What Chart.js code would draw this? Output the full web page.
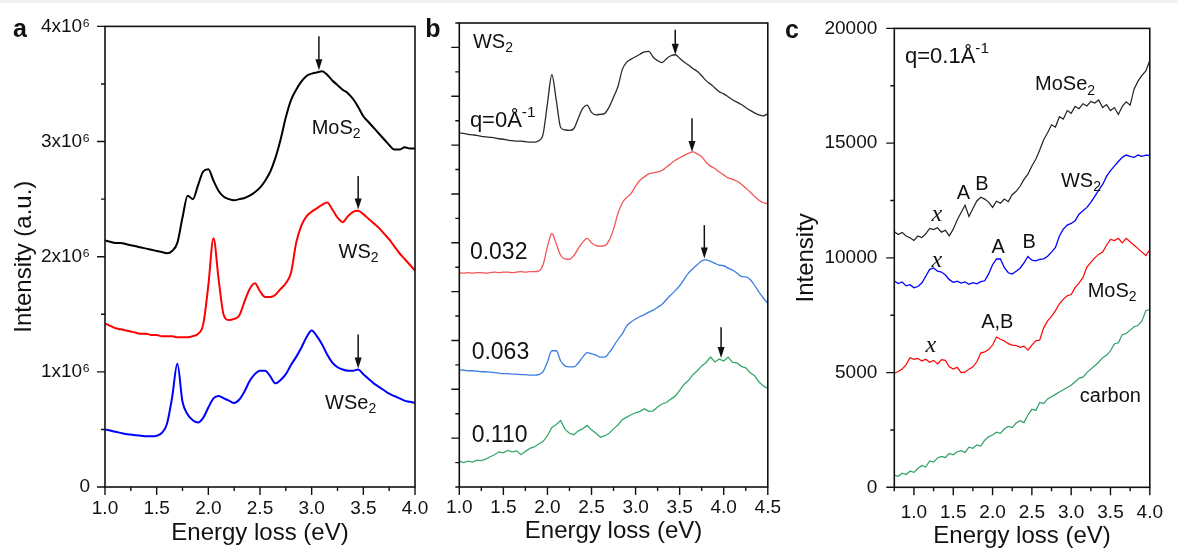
<!DOCTYPE html>
<html>
<head>
<meta charset="utf-8">
<script src="https://cdn.jsdelivr.net/npm/chart.js@4.4.1/dist/chart.umd.min.js"></script>
<style>
  body { margin: 0; background: #fff; width: 1177px; height: 552px; overflow: hidden; position: relative; }
  canvas { position: absolute; top: 0; }
  .strip { position: absolute; left: 0; top: 0; width: 1177px; height: 3px; background: #efefef; }
</style>
</head>
<body>
<div class="strip"></div>
<canvas id="panelA" width="440" height="552" style="left:0"></canvas>
<canvas id="panelB" width="370" height="552" style="left:420px"></canvas>
<canvas id="panelC" width="397" height="552" style="left:780px"></canvas>
<script>
// ---- energy axes (eV) ----
const energyA = [1.00, 1.05, 1.10, 1.15, 1.20, 1.25, 1.30, 1.35, 1.40, 1.45,
  1.50, 1.55, 1.60, 1.65, 1.70, 1.75, 1.80, 1.85, 1.90, 1.95,
  2.00, 2.05, 2.10, 2.15, 2.20, 2.25, 2.30, 2.35, 2.40, 2.45,
  2.50, 2.55, 2.60, 2.65, 2.70, 2.75, 2.80, 2.85, 2.90, 2.95,
  3.00, 3.05, 3.10, 3.15, 3.20, 3.25, 3.30, 3.35, 3.40, 3.45,
  3.50, 3.55, 3.60, 3.65, 3.70, 3.75, 3.80, 3.85, 3.90, 3.95,
  4.00];
const energyB = [1.00, 1.05, 1.10, 1.15, 1.20, 1.25, 1.30, 1.35, 1.40, 1.45,
  1.50, 1.55, 1.60, 1.65, 1.70, 1.75, 1.80, 1.85, 1.90, 1.95,
  2.00, 2.05, 2.10, 2.15, 2.20, 2.25, 2.30, 2.35, 2.40, 2.45,
  2.50, 2.55, 2.60, 2.65, 2.70, 2.75, 2.80, 2.85, 2.90, 2.95,
  3.00, 3.05, 3.10, 3.15, 3.20, 3.25, 3.30, 3.35, 3.40, 3.45,
  3.50, 3.55, 3.60, 3.65, 3.70, 3.75, 3.80, 3.85, 3.90, 3.95,
  4.00, 4.05, 4.10, 4.15, 4.20, 4.25, 4.30, 4.35, 4.40, 4.45,
  4.50];
const energyC = [0.75, 0.80, 0.85, 0.90, 0.95,
  1.00, 1.05, 1.10, 1.15, 1.20, 1.25, 1.30, 1.35, 1.40, 1.45,
  1.50, 1.55, 1.60, 1.65, 1.70, 1.75, 1.80, 1.85, 1.90, 1.95,
  2.00, 2.05, 2.10, 2.15, 2.20, 2.25, 2.30, 2.35, 2.40, 2.45,
  2.50, 2.55, 2.60, 2.65, 2.70, 2.75, 2.80, 2.85, 2.90, 2.95,
  3.00, 3.05, 3.10, 3.15, 3.20, 3.25, 3.30, 3.35, 3.40, 3.45,
  3.50, 3.55, 3.60, 3.65, 3.70, 3.75, 3.80, 3.85, 3.90, 3.95,
  4.00];

// ---- panel a: bulk spectra, intensity in units of 10^6 ----
const aMoS2 = [2.14, 2.13, 2.12, 2.12, 2.11, 2.10, 2.09, 2.08, 2.07, 2.06,
  2.05, 2.04, 2.03, 2.05, 2.12, 2.34, 2.53, 2.50, 2.62, 2.74,
  2.76, 2.66, 2.57, 2.52, 2.50, 2.49, 2.50, 2.51, 2.53, 2.56,
  2.60, 2.66, 2.74, 2.86, 3.02, 3.21, 3.36, 3.45, 3.52, 3.57,
  3.59, 3.60, 3.61, 3.58, 3.53, 3.49, 3.45, 3.42, 3.37, 3.30,
  3.22, 3.17, 3.12, 3.07, 3.02, 2.97, 2.93, 2.93, 2.95, 2.94,
  2.94];
const aWS2 = [1.42, 1.40, 1.38, 1.37, 1.36, 1.35, 1.34, 1.33, 1.33, 1.32,
  1.32, 1.31, 1.31, 1.31, 1.30, 1.30, 1.30, 1.31, 1.33, 1.41,
  1.75, 2.16, 1.80, 1.49, 1.45, 1.46, 1.49, 1.61, 1.72, 1.77,
  1.70, 1.65, 1.65, 1.67, 1.72, 1.77, 1.86, 2.12, 2.27, 2.35,
  2.39, 2.42, 2.45, 2.47, 2.41, 2.34, 2.30, 2.35, 2.39, 2.40,
  2.37, 2.33, 2.29, 2.25, 2.20, 2.15, 2.09, 2.03, 1.98, 1.93,
  1.88];
const aWSe2 = [0.50, 0.49, 0.48, 0.47, 0.46, 0.455, 0.45, 0.445, 0.44, 0.44,
  0.445, 0.47, 0.55, 0.78, 1.07, 0.74, 0.63, 0.58, 0.56, 0.60,
  0.69, 0.77, 0.79, 0.77, 0.75, 0.73, 0.76, 0.83, 0.92, 0.98,
  1.01, 1.01, 0.96, 0.90, 0.93, 0.98, 1.06, 1.13, 1.21, 1.30,
  1.36, 1.31, 1.24, 1.15, 1.08, 1.04, 1.02, 1.01, 1.01, 1.02,
  0.98, 0.94, 0.90, 0.87, 0.84, 0.81, 0.79, 0.77, 0.75, 0.74,
  0.73];

// ---- panel b: WS2 at increasing q, stacked with offsets ----
const bQ000 = [7.25, 7.24, 7.22, 7.21, 7.20, 7.18, 7.17, 7.16, 7.15, 7.13,
  7.12, 7.10, 7.09, 7.08, 7.08, 7.07, 7.06, 7.06, 7.09, 7.22,
  7.85, 8.44, 7.92, 7.36, 7.31, 7.30, 7.34, 7.55, 7.75, 7.82,
  7.67, 7.62, 7.63, 7.65, 7.78, 7.98, 8.20, 8.55, 8.70, 8.76,
  8.81, 8.86, 8.91, 8.92, 8.80, 8.73, 8.69, 8.77, 8.83, 8.85,
  8.78, 8.70, 8.64, 8.57, 8.51, 8.42, 8.32, 8.25, 8.17, 8.09,
  8.05, 7.99, 7.93, 7.88, 7.83, 7.77, 7.71, 7.66, 7.62, 7.60,
  7.64];
const bQ032 = [4.39, 4.38, 4.39, 4.38, 4.39, 4.39, 4.38, 4.39, 4.40, 4.39,
  4.40, 4.40, 4.39, 4.40, 4.41, 4.40, 4.41, 4.41, 4.42, 4.55,
  4.92, 5.19, 4.98, 4.74, 4.67, 4.66, 4.74, 4.88, 5.01, 5.09,
  5.00, 4.94, 4.93, 4.94, 5.05, 5.28, 5.60, 5.82, 5.93, 6.01,
  6.16, 6.28, 6.35, 6.41, 6.43, 6.45, 6.48, 6.55, 6.62, 6.69,
  6.74, 6.79, 6.83, 6.86, 6.82, 6.76, 6.65, 6.57, 6.52, 6.45,
  6.39, 6.33, 6.30, 6.26, 6.20, 6.12, 6.04, 5.95, 5.87, 5.82,
  5.80];
const bQ063 = [2.40, 2.39, 2.38, 2.38, 2.37, 2.36, 2.36, 2.35, 2.34, 2.33,
  2.32, 2.32, 2.31, 2.31, 2.30, 2.30, 2.29, 2.29, 2.30, 2.36,
  2.56, 2.79, 2.79, 2.58, 2.48, 2.46, 2.46, 2.54, 2.66, 2.75,
  2.73, 2.70, 2.66, 2.66, 2.75, 2.88, 3.02, 3.14, 3.30, 3.38,
  3.44, 3.49, 3.53, 3.58, 3.62, 3.68, 3.74, 3.84, 3.93, 4.02,
  4.12, 4.25, 4.38, 4.47, 4.55, 4.63, 4.65, 4.62, 4.58, 4.54,
  4.53, 4.48, 4.44, 4.38, 4.31, 4.30, 4.25, 4.13, 3.99, 3.87,
  3.76];
const bQ110 = [0.53, 0.50, 0.53, 0.51, 0.55, 0.54, 0.57, 0.62, 0.66, 0.72,
  0.70, 0.75, 0.72, 0.74, 0.66, 0.73, 0.79, 0.82, 0.88, 0.93,
  1.05, 1.22, 1.28, 1.36, 1.18, 1.10, 1.07, 1.15, 1.19, 1.26,
  1.17, 1.10, 1.02, 1.05, 1.10, 1.19, 1.27, 1.38, 1.43, 1.48,
  1.52, 1.55, 1.60, 1.55, 1.56, 1.64, 1.70, 1.73, 1.80, 1.86,
  1.98, 2.10, 2.18, 2.30, 2.38, 2.48, 2.55, 2.66, 2.56, 2.62,
  2.58, 2.66, 2.55, 2.54, 2.47, 2.44, 2.34, 2.28, 2.15, 2.07,
  2.02];

// ---- panel c: monolayers at q = 0.1 1/A ----
const cMoSe2 = [11140, 11020, 11110, 10950, 10880,
  10760, 10950, 10880, 11050, 11280, 11230, 11310, 11120, 11200, 10960,
  11250, 11650, 11980, 12290, 11800, 12150, 12480, 12640, 12560, 12430,
  12200, 12470, 12380, 12560, 12450, 12750, 12900, 13120, 13420, 13650,
  14000, 14300, 14700, 15150, 15450, 15800, 15700, 16150, 16050, 16420,
  16300, 16600, 16500, 16720, 16620, 16820, 16750, 16880, 16550, 16680,
  16420, 16550, 16250, 16600, 16800, 16650, 17350, 17700, 17950, 18150,
  18600];
const cWS2 = [8990, 8880, 8950, 8780, 8830,
  8700, 8750, 8900, 9200, 9500, 9560, 9420, 9380, 9250, 9050,
  8930, 8980, 8900, 8950, 8850, 8920, 8870, 8960, 9000, 9300,
  9700, 9950, 9950, 9570, 9350, 9290, 9420, 9550, 9780, 10060,
  9900, 9870, 9930, 9960, 10070, 10250, 10450, 10950, 11250, 11430,
  11500, 11620, 11900, 12050, 12200, 12420, 12680, 12950, 13200, 13550,
  13800, 14000, 14200, 14380, 14480, 14420, 14380, 14480, 14420, 14480,
  14460];
const cMoS2 = [4970, 5050, 5150, 5350, 5650,
  5580, 5620, 5500, 5580, 5450, 5530, 5380, 5560, 5530, 5250,
  5150, 5230, 5000, 5020, 5150, 5250, 5470, 5850, 5900, 6000,
  6200, 6550, 6450, 6380, 6260, 6200, 6180, 6100, 6150, 5980,
  6200, 6380, 6420, 6950, 7250, 7450, 7700, 8000, 8200, 8350,
  8400, 8700, 8900, 9150, 9600, 9800, 10000, 10150, 10250, 10550,
  10800, 10750, 10850, 10650, 10850, 10700, 10550, 10400, 10250, 10100,
  10350];
const cCarbon = [530, 480, 620, 560, 700,
  650, 820, 950, 880, 1150, 1100, 1280, 1350, 1300, 1480,
  1420, 1550, 1600, 1520, 1750, 1700, 1850, 1800, 2050, 2200,
  2280, 2400, 2350, 2550, 2650, 2600, 2800, 2900, 2820, 3150,
  3400, 3350, 3700, 3650, 3850, 3950, 4050, 4150, 4250, 4350,
  4450, 4600, 4750, 4800, 5000, 5150, 5300, 5450, 5650, 5750,
  5950, 6250, 6300, 6650, 6700, 6850, 7000, 7050, 7250, 7700,
  7750];

// ---- tick values ----
const xTicksA = [1.0, 1.5, 2.0, 2.5, 3.0, 3.5, 4.0];
const xTicksB = [1.0, 1.5, 2.0, 2.5, 3.0, 3.5, 4.0, 4.5];
const xTicksC = [1.0, 1.5, 2.0, 2.5, 3.0, 3.5, 4.0];
const yTicksA = [0, 1, 2, 3, 4];
const yTicksB = [1, 2, 3, 4, 5, 6, 7, 8, 9];
const yTicksC = [0, 5000, 10000, 15000, 20000];

const FONT = '"Liberation Sans", Arial, sans-serif';
const SERIF = '"Liberation Serif", "Times New Roman", serif';
const INK = '#111';

// text with _{sub} and ^{sup} runs, drawn left-aligned or centred
function drawRich(ctx, text, x, y, size, opt) {
  const parts = [];
  const re = /([_^])\{([^}]*)\}/g;
  let last = 0, m;
  while ((m = re.exec(text))) {
    if (m.index > last) parts.push({ t: text.slice(last, m.index), k: '' });
    parts.push({ t: m[2], k: m[1] });
    last = re.lastIndex;
  }
  if (last < text.length) parts.push({ t: text.slice(last), k: '' });
  const fam = opt.serif ? SERIF : FONT;
  const fontFor = k => (opt.italic ? 'italic ' : '') + (k ? size * 0.7 : size) + 'px ' + fam;
  let w = 0;
  parts.forEach(p => { ctx.font = fontFor(p.k); p.w = ctx.measureText(p.t).width; w += p.w; });
  let cx = opt.align === 'center' ? x - w / 2 : x;
  ctx.textAlign = 'left';
  ctx.textBaseline = 'middle';
  ctx.fillStyle = INK;
  parts.forEach(p => {
    ctx.font = fontFor(p.k);
    const dy = p.k === '_' ? size * 0.3 : p.k === '^' ? -size * 0.36 : 0;
    ctx.fillText(p.t, cx, y + dy);
    cx += p.w;
  });
}

function drawArrow(ctx, x, yTail, yTip) {
  ctx.beginPath();
  ctx.moveTo(x, yTail);
  ctx.lineTo(x, yTip - 8);
  ctx.stroke();
  ctx.beginPath();
  ctx.moveTo(x - 3.5, yTip - 11);
  ctx.lineTo(x + 3.5, yTip - 11);
  ctx.lineTo(x, yTip);
  ctx.closePath();
  ctx.fill();
}

function makePanel(id, cfg) {
  const canvas = document.getElementById(id);
  const W = canvas.width, H = canvas.height;
  const area = cfg.area;

  // frame, inner/outer ticks, arrows, labels and the panel letter
  const decor = {
    id: 'decor',
    afterDatasetsDraw(chart) {
      const ctx = chart.ctx;
      const ca = chart.chartArea;
      const xs = chart.scales.x, ys = chart.scales.y;
      ctx.save();
      ctx.strokeStyle = INK;
      ctx.fillStyle = INK;
      ctx.lineWidth = 1.6;
      ctx.strokeRect(ca.left, ca.top, ca.right - ca.left, ca.bottom - ca.top);

      ctx.lineWidth = 1.4;
      ctx.beginPath();
      for (let v = xs.min; v <= xs.max + 1e-9; v += cfg.xMinor) {
        const major = cfg.xTicks.some(t => Math.abs(t - v) < 1e-6);
        const px = xs.getPixelForValue(v);
        ctx.moveTo(px, ca.bottom);
        ctx.lineTo(px, ca.bottom + (major ? 8 : 4));
      }
      for (let v = ys.min; v <= ys.max + 1e-9; v += cfg.yMinor) {
        const major = cfg.yTicks.some(t => Math.abs(t - v) < 1e-6);
        const py = ys.getPixelForValue(v);
        ctx.moveTo(ca.left, py);
        ctx.lineTo(ca.left - (major ? 8 : 4), py);
      }
      ctx.stroke();

      ctx.lineWidth = 1.5;
      cfg.arrows.forEach(([e, tail, tip]) => {
        drawArrow(ctx, xs.getPixelForValue(e), ys.getPixelForValue(tail), ys.getPixelForValue(tip));
      });

      cfg.labels.forEach(l => {
        drawRich(ctx, l.text, xs.getPixelForValue(l.x), ys.getPixelForValue(l.y), l.size || 20, l);
      });

      ctx.font = 'bold 25px ' + FONT;
      ctx.textAlign = 'center';
      ctx.textBaseline = 'middle';
      ctx.fillText(cfg.letter.text, cfg.letter.x, cfg.letter.y);
      ctx.restore();
    }
  };

  return new Chart(canvas, {
    type: 'line',
    data: {
      datasets: cfg.series.map(s => ({
        data: cfg.energy.map((e, i) => ({ x: e, y: s.values[i] })),
        borderColor: s.color,
        borderWidth: s.width,
        pointRadius: 0,
        fill: false,
        cubicInterpolationMode: s.smooth ? 'monotone' : 'default',
        tension: 0
      }))
    },
    options: {
      responsive: false,
      animation: false,
      events: [],
      layout: { padding: { left: 0, top: area.top, right: W - area.right, bottom: 0 } },
      plugins: { legend: { display: false }, tooltip: { enabled: false } },
      scales: {
        x: {
          type: 'linear',
          min: cfg.xMin,
          max: cfg.xMax,
          afterFit: s => { s.height = H - area.bottom; },
          afterBuildTicks: s => { s.ticks = cfg.xTicks.map(v => ({ value: v })); },
          ticks: {
            autoSkip: false, maxRotation: 0, padding: cfg.xTickPad, color: INK,
            font: { family: FONT, size: 19 },
            callback: v => v.toFixed(1)
          },
          grid: { display: false, drawTicks: false },
          border: { display: false },
          title: {
            display: true, text: 'Energy loss (eV)', color: INK,
            font: { family: FONT, size: 24 },
            padding: { top: 0, bottom: cfg.xTitlePad }
          }
        },
        y: {
          type: 'linear',
          min: cfg.yMin,
          max: cfg.yMax,
          afterFit: s => { s.width = area.left; },
          afterBuildTicks: s => { s.ticks = cfg.yTicks.map(v => ({ value: v })); },
          ticks: {
            display: cfg.yLabel !== null, autoSkip: false, padding: cfg.yTickPad, color: INK,
            font: { family: FONT, size: 19 },
            callback: cfg.yLabel || (() => '')
          },
          grid: { display: false, drawTicks: false },
          border: { display: false },
          title: {
            display: !!cfg.yTitle, text: cfg.yTitle || '', color: INK,
            font: { family: FONT, size: 24 },
            padding: { top: cfg.yTitlePad, bottom: 0 }
          }
        }
      }
    },
    plugins: [decor]
  });
}

makePanel('panelA', {
  area: { left: 105, right: 415, top: 23, bottom: 487 },
  energy: energyA,
  xMin: 1.0, xMax: 4.0, xTicks: xTicksA, xMinor: 0.25, xTickPad: 10, xTitlePad: 4,
  yMin: 0, yMax: 4, yTicks: yTicksA, yMinor: 0.5, yTickPad: 15, yTitlePad: 10,
  yLabel: v => (v === 0 ? '0' : v + 'x10\u2076'),
  yTitle: 'Intensity (a.u.)',
  series: [
    { values: aMoS2, color: '#000000', width: 2, smooth: true },
    { values: aWS2, color: '#ff0000', width: 2, smooth: true },
    { values: aWSe2, color: '#0000ff', width: 2, smooth: true }
  ],
  arrows: [[3.07, 3.915, 3.62], [3.45, 2.70, 2.41], [3.45, 1.325, 1.03]],
  labels: [
    { text: 'MoS_{2}', x: 3.0, y: 3.115 },
    { text: 'WS_{2}', x: 3.26, y: 2.04 },
    { text: 'WSe_{2}', x: 3.13, y: 0.726 }
  ],
  letter: { text: 'a', x: 20, y: 30 }
});

makePanel('panelB', {
  area: { left: 39.3, right: 349, top: 23, bottom: 487 },
  energy: energyB,
  xMin: 1.0, xMax: 4.5, xTicks: xTicksB, xMinor: 0.25, xTickPad: 9, xTitlePad: 6,
  yMin: 0, yMax: 9.5, yTicks: yTicksB, yMinor: 0.5, yTickPad: 10, yTitlePad: 0,
  yLabel: null,
  yTitle: null,
  series: [
    { values: bQ000, color: '#2a2a2a', width: 1.3, smooth: true },
    { values: bQ032, color: '#f25656', width: 1.3, smooth: true },
    { values: bQ063, color: '#3b7de3', width: 1.3, smooth: true },
    { values: bQ110, color: '#38a86a', width: 1.3, smooth: false }
  ],
  arrows: [[3.45, 9.36, 8.85], [3.64, 7.55, 6.86], [3.78, 5.36, 4.68], [3.97, 3.27, 2.64]],
  labels: [
    { text: 'WS_{2}', x: 1.155, y: 9.10, size: 20 },
    { text: 'q=0\u00c5^{-1}', x: 1.12, y: 7.50, size: 22 },
    { text: '0.032', x: 1.12, y: 4.79, size: 23 },
    { text: '0.063', x: 1.14, y: 2.76, size: 23 },
    { text: '0.110', x: 1.14, y: 1.06, size: 23 }
  ],
  letter: { text: 'b', x: 13, y: 30 }
});

makePanel('panelC', {
  area: { left: 114.3, right: 379.3, top: 20, bottom: 487.3 },
  energy: energyC,
  xMin: 0.75, xMax: 4.0, xTicks: xTicksC, xMinor: 0.25, xTickPad: 14, xTitlePad: 1,
  yMin: 0, yMax: 20000, yTicks: yTicksC, yMinor: 2500, yTickPad: 17, yTitlePad: 12,
  yLabel: v => String(v),
  yTitle: 'Intensity',
  series: [
    { values: cMoSe2, color: '#222222', width: 1.2, smooth: false },
    { values: cWS2, color: '#0000ff', width: 1.3, smooth: false },
    { values: cMoS2, color: '#ff0000', width: 1.2, smooth: false },
    { values: cCarbon, color: '#2e9e62', width: 1.2, smooth: false }
  ],
  arrows: [],
  labels: [
    { text: 'q=0.1\u00c5^{-1}', x: 0.886, y: 18760, size: 22 },
    { text: 'MoSe_{2}', x: 2.54, y: 17540 },
    { text: 'A', x: 1.63, y: 12810, align: 'center' },
    { text: 'B', x: 1.865, y: 13190, align: 'center' },
    { text: 'x', x: 1.29, y: 11870, align: 'center', size: 24, italic: true, serif: true },
    { text: 'WS_{2}', x: 2.87, y: 13345 },
    { text: 'A', x: 2.07, y: 10460, align: 'center' },
    { text: 'B', x: 2.465, y: 10670, align: 'center' },
    { text: 'x', x: 1.29, y: 9860, align: 'center', size: 24, italic: true, serif: true },
    { text: 'MoS_{2}', x: 3.21, y: 8550 },
    { text: 'A,B', x: 2.06, y: 7170, align: 'center' },
    { text: 'x', x: 1.215, y: 6180, align: 'center', size: 24, italic: true, serif: true },
    { text: 'carbon', x: 3.11, y: 3950 }
  ],
  letter: { text: 'c', x: 12, y: 31 }
});
</script>
</body>
</html>
